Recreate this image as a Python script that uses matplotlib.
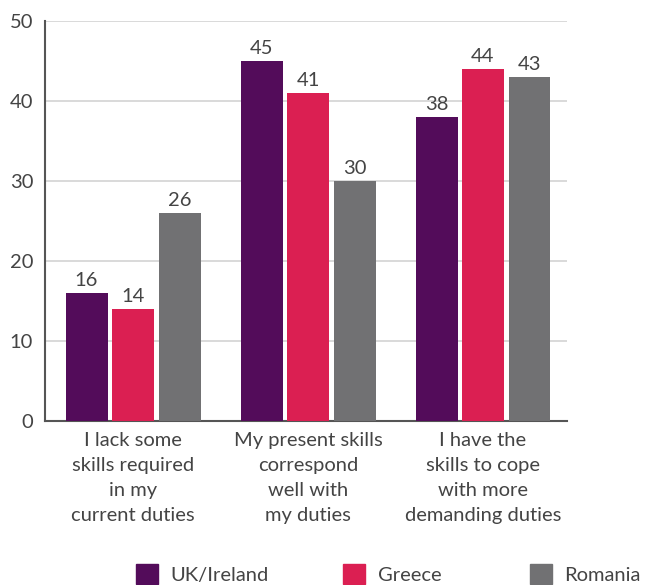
import matplotlib
matplotlib.use("Agg")
import matplotlib.pyplot as plt
import numpy as np
from matplotlib.patches import Patch

plt.rcParams['font.family'] = ['Lato', 'DejaVu Sans']

categories = ["I lack some\nskills required\nin my\ncurrent duties",
              "My present skills\ncorrespond\nwell with\nmy duties",
              "I have the\nskills to cope\nwith more\ndemanding duties"]
series_names = ["UK/Ireland", "Greece", "Romania"]
uk = [16, 45, 38]
greece = [14, 41, 44]
romania = [26, 30, 43]
colors = ["#530c5a", "#db1f52", "#717173"]
yticks = [0, 10, 20, 30, 40, 50]

text_color = "#444444"
fs = 14.5

fig = plt.figure(figsize=(6.49, 5.85), dpi=100)
ax = fig.add_axes([45/649, 1-421/585, (567-45)/649, (421-21)/585])

x = np.arange(len(categories))
width = 0.24
offset = 0.2657
for i, (vals, col) in enumerate(zip([uk, greece, romania], colors)):
    pos = x + (i - 1) * offset
    bars = ax.bar(pos, vals, width=width, color=col, zorder=3)
    for b, v in zip(bars, vals):
        ax.annotate(str(v), (b.get_x() + b.get_width()/2, v), xytext=(0, 3),
                    textcoords="offset points", ha="center", va="bottom",
                    fontsize=fs, color=text_color)

ax.set_xlim(-0.503, 2.48)
ax.set_ylim(0, 50)
ax.set_yticks(yticks)
ax.set_yticklabels([str(t) for t in yticks], fontsize=fs, color=text_color)
ax.tick_params(axis='y', length=0, pad=8.5)
ax.tick_params(axis='x', length=0, pad=8)
ax.set_xticks(x)
ax.set_xticklabels(categories, fontsize=fs, color=text_color, linespacing=1.56)
ax.grid(axis='y', color="#d3d3d3", linewidth=1.2, zorder=0)
for s in ['top', 'right']:
    ax.spines[s].set_visible(False)
ax.spines['left'].set_color("#555555")
ax.spines['left'].set_linewidth(1.5)
ax.spines['bottom'].set_color("#555555")
ax.spines['bottom'].set_linewidth(1.5)

# legend entries placed individually
leg_x = [136/649, 343/649, 530/649]
for name, col, lx in zip(series_names, colors, leg_x):
    leg = fig.legend(handles=[Patch(color=col, label=name)], loc="center left",
                     bbox_to_anchor=(lx - 0.012, 1 - 574/585), frameon=False,
                     fontsize=fs, handlelength=1.1, handleheight=1.1,
                     handletextpad=0.6, borderaxespad=0)
    for t in leg.get_texts():
        t.set_color(text_color)

fig.savefig("out.png", dpi=100)
